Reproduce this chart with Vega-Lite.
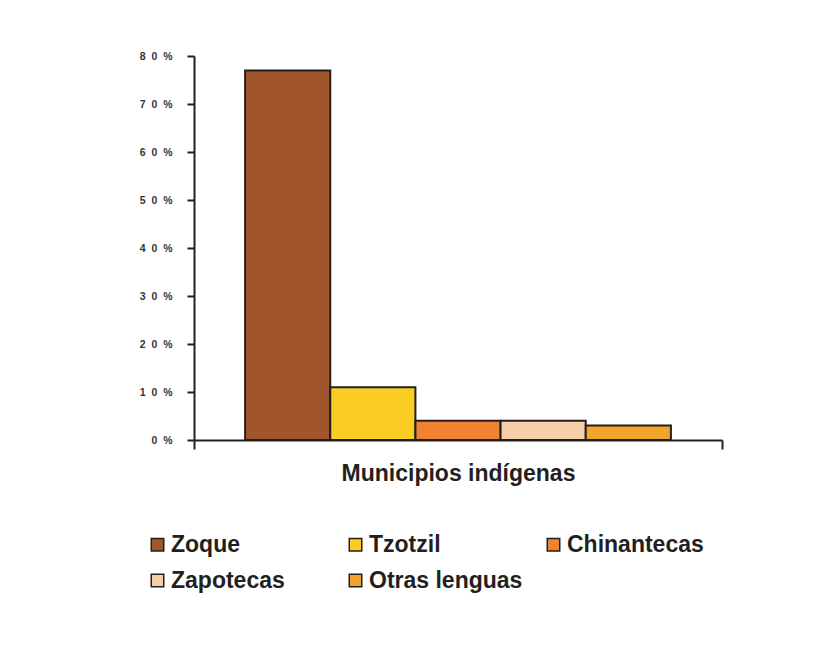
{
  "$schema": "https://vega.github.io/schema/vega-lite/v6.json",
  "width": 528,
  "height": 384,
  "autosize": {"type": "none"},
  "padding": {"left": 194, "top": 56, "right": 103, "bottom": 206},
  "background": "white",
  "config": {
    "view": {"stroke": null},
    "font": "Liberation Sans"
  },
  "resolve": {"scale": {"x": "independent"}},
  "layer": [
    {
      "data": {
        "values": [
          {"lengua": "Zoque", "pct": 77},
          {"lengua": "Tzotzil", "pct": 11},
          {"lengua": "Chinantecas", "pct": 4},
          {"lengua": "Zapotecas", "pct": 4},
          {"lengua": "Otras lenguas", "pct": 3}
        ]
      },
      "mark": {"type": "bar", "stroke": "#231F20", "strokeWidth": 2, "strokeJoin": "miter"},
      "encoding": {
        "x": {
          "field": "lengua",
          "type": "nominal",
          "sort": null,
          "scale": {"paddingInner": 0, "paddingOuter": 0.6},
          "axis": null
        },
        "y": {
          "field": "pct",
          "type": "quantitative",
          "scale": {"domain": [0, 80], "nice": false},
          "axis": {
            "values": [0, 10, 20, 30, 40, 50, 60, 70, 80],
            "labelExpr": "datum.value == 0 ? '0\u00a0\u00a0%' : (datum.value / 10) + '\u00a0\u00a00\u00a0\u00a0%'",
            "title": null,
            "grid": false,
            "domainColor": "#231F20",
            "domainWidth": 2,
            "tickColor": "#231F20",
            "tickWidth": 2,
            "tickSize": 7,
            "labelFont": "Liberation Sans",
            "labelFontWeight": "bold",
            "labelFontSize": 10.5,
            "labelColor": "#333333",
            "labelPadding": 15
          }
        },
        "color": {
          "field": "lengua",
          "type": "nominal",
          "sort": null,
          "scale": {
            "domain": ["Zoque", "Tzotzil", "Chinantecas", "Zapotecas", "Otras lenguas"],
            "range": ["#A0552B", "#FBCD23", "#F08331", "#F6CFAA", "#F3A52B"]
          },
          "legend": {
            "orient": "none",
            "legendX": -48,
            "legendY": 477,
            "direction": "horizontal",
            "columns": 3,
            "gridAlign": "all",
            "columnPadding": 19,
            "rowPadding": 12,
            "title": null,
            "symbolType": "square",
            "symbolSize": 156,
            "symbolStrokeColor": "#231F20",
            "symbolStrokeWidth": 1.5,
            "symbolOpacity": 1,
            "labelFont": "Liberation Sans",
            "labelFontSize": 23,
            "labelFontWeight": "bold",
            "labelColor": "#231F20",
            "labelOffset": 2,
            "labelLimit": 400
          }
        }
      }
    },
    {
      "data": {"values": [{"p": 0}, {"p": 1}]},
      "mark": {"type": "rule", "opacity": 0},
      "encoding": {
        "x": {
          "field": "p",
          "type": "quantitative",
          "scale": {"domain": [0, 1], "nice": false, "zero": false},
          "axis": {
            "orient": "bottom",
            "values": [0, 1],
            "labels": false,
            "grid": false,
            "domainColor": "#231F20",
            "domainWidth": 2,
            "tickColor": "#231F20",
            "tickWidth": 2,
            "tickSize": 9,
            "title": "Municipios indígenas",
            "titleFont": "Liberation Sans",
            "titleFontSize": 23,
            "titleFontWeight": "bold",
            "titleColor": "#231F20",
            "titlePadding": 12
          }
        }
      }
    }
  ]
}
